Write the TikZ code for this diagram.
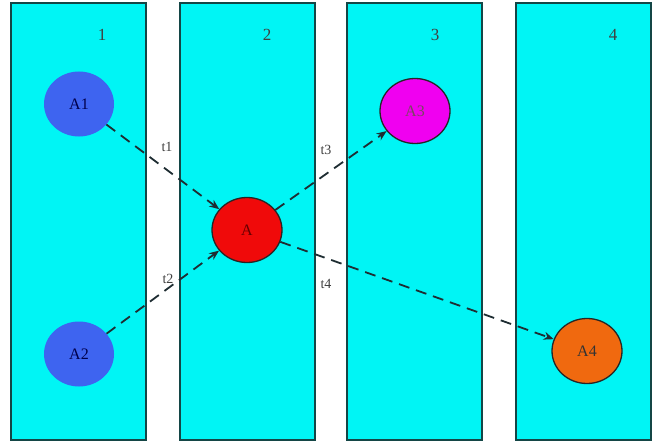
\documentclass[tikz,border=0pt]{standalone}
\usepackage{fontspec}
\setmainfont{Liberation Serif}
\usetikzlibrary{arrows.meta,shapes.geometric}
\definecolor{lane}{RGB}{0,245,245}
\definecolor{laneborder}{RGB}{20,70,70}
\definecolor{blueA}{RGB}{62,100,240}
\definecolor{redA}{RGB}{240,10,10}
\definecolor{magA}{RGB}{240,0,240}
\definecolor{orgA}{RGB}{240,105,15}
\definecolor{edgec}{RGB}{30,45,50}
\begin{document}
\begin{tikzpicture}[x=1pt,y=-1pt,
  lanebox/.style={draw=laneborder,line width=1.5pt,fill=lane},
  state/.style={ellipse,minimum width=70pt,minimum height=65pt,inner sep=0pt,font=\fontsize{16}{16}\selectfont,text=black!80},
  bordered/.style={draw=black!85,line width=1.3pt},
  conn/.style={draw=edgec,line width=1.8pt,dash pattern=on 11pt off 7pt,-{Stealth[length=10pt,width=8pt]}},
  elabel/.style={font=\fontsize{14}{14}\selectfont,text=black!75,inner sep=1pt},
  lanelabel/.style={font=\fontsize{17}{17}\selectfont,text=black!75}]
\useasboundingbox (0,0) rectangle (667,444);
\fill[white] (0,0) rectangle (667,444);
\draw[lanebox] (11,3) rectangle (146,440);
\draw[lanebox] (180,3) rectangle (315,440);
\draw[lanebox] (347,3) rectangle (482,440);
\draw[lanebox] (516,3) rectangle (651,440);
\node[lanelabel] (l1) at (102,35) {1};
\node[lanelabel] (l2) at (267,35) {2};
\node[lanelabel] (l3) at (435,35) {3};
\node[lanelabel] (l4) at (613,35) {4};
\node[state,fill=blueA,text=blue!30!black] (A1) at (79,104) {A1};
\node[state,fill=blueA,text=blue!30!black] (A2) at (79,354) {A2};
\node[state,bordered,fill=redA,text=red!40!black] (A) at (247,230) {A};
\node[state,bordered,fill=magA,text=magenta!40!black] (A3) at (415,111) {A3};
\node[state,bordered,fill=orgA] (A4) at (587,351) {A4};
\draw[conn] (A1) -- (A);
\draw[conn] (A2) -- (A);
\draw[conn] (A) -- (A3);
\draw[conn] (A) -- (A4);
\node[elabel] (t1) at (167,147) {t1};
\node[elabel] (t2) at (168,279) {t2};
\node[elabel] (t3) at (326,150) {t3};
\node[elabel] (t4) at (326,284) {t4};
\end{tikzpicture}
\end{document}
